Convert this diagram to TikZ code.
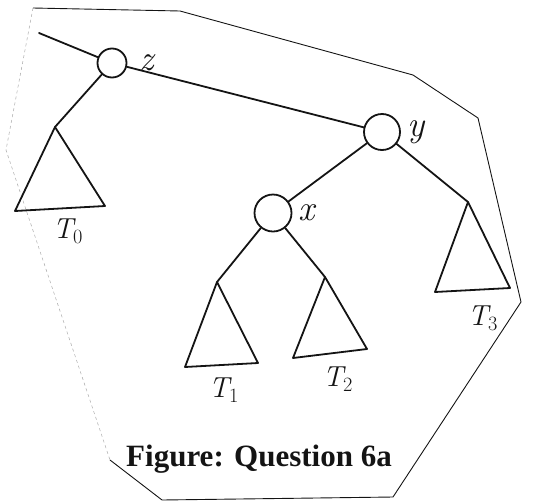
\documentclass[tikz,border=0pt]{standalone}
\usepackage{fontspec}
\setmainfont{Liberation Serif}
\newfontfamily\lmfont{Latin Modern Roman}
\usepackage{xcolor}
\usepackage{tikz}
\usetikzlibrary{positioning,calc}
\definecolor{penink}{RGB}{20,20,20}
\definecolor{edgegray}{RGB}{170,170,170}

\begin{document}
\begin{tikzpicture}[
  x=1pt, y=-1pt,
  vert/.style={draw=penink, circle, line width=1.8pt, inner sep=0pt},
  edge/.style={draw=penink, line width=1.8pt, line cap=round},
  subtree/.style={draw=penink, line width=1.8pt, line join=round},
  lbl/.style={font=\lmfont\itshape\fontsize{36}{36}\selectfont, text=penink},
  tlbl/.style={font=\lmfont\itshape\fontsize{29}{29}\selectfont, text=penink},
  frame/.style={draw=penink, line width=0.9pt, line join=round},
  faint/.style={draw=edgegray, line width=0.5pt, dashed}
]
\useasboundingbox (0,0) rectangle (540,501);
\draw[frame] (110,460) -- (162,500) -- (393,497) -- (521,302) -- (478,118) -- (413,75) -- (180,11) -- (33,8);
\draw[faint] (33,8) -- (6,150) -- (110,460);

\node[vert, minimum size=29pt] (z) at (112,63) {};
\node[vert, minimum size=36pt] (y) at (382,132) {};
\node[vert, minimum size=37pt] (x) at (273,213) {};
\node[lbl, right=9pt of z] (zl) {z};
\node[lbl, right=3pt of y] (yl) {y};
\node[lbl, right=3pt of x] (xl) {x};

\coordinate (zin) at (39,33);
\coordinate (t0top) at (55,127);
\coordinate (t1top) at (217,282);
\coordinate (t2top) at (325,277);
\coordinate (t3top) at (468,202);

\draw[edge] (zin) -- (z);
\draw[edge] (z) -- (y);
\draw[edge] (z) -- (t0top);
\draw[edge] (y) -- (x);
\draw[edge] (y) -- (t3top);
\draw[edge] (x) -- (t1top);
\draw[edge] (x) -- (t2top);

\draw[subtree] (t0top) -- (15,211) -- (105,206) -- cycle;
\draw[subtree] (t1top) -- (185,367) -- (258,363) -- cycle;
\draw[subtree] (t2top) -- (293,358) -- (367,349) -- cycle;
\draw[subtree] (t3top) -- (435,292) -- (510,288) -- cycle;

\node[tlbl] (t0l) at (68,231) {T\textsubscript{\upshape 0}};
\node[tlbl] (t1l) at (224,390) {T\textsubscript{\upshape 1}};
\node[tlbl] (t2l) at (338,379) {T\textsubscript{\upshape 2}};
\node[tlbl] (t3l) at (483,318) {T\textsubscript{\upshape 3}};

\node[font=\fontsize{31}{31}\selectfont\bfseries, text=penink] (cap) at (259,459) {Figure: Question 6a};
\end{tikzpicture}
\end{document}
